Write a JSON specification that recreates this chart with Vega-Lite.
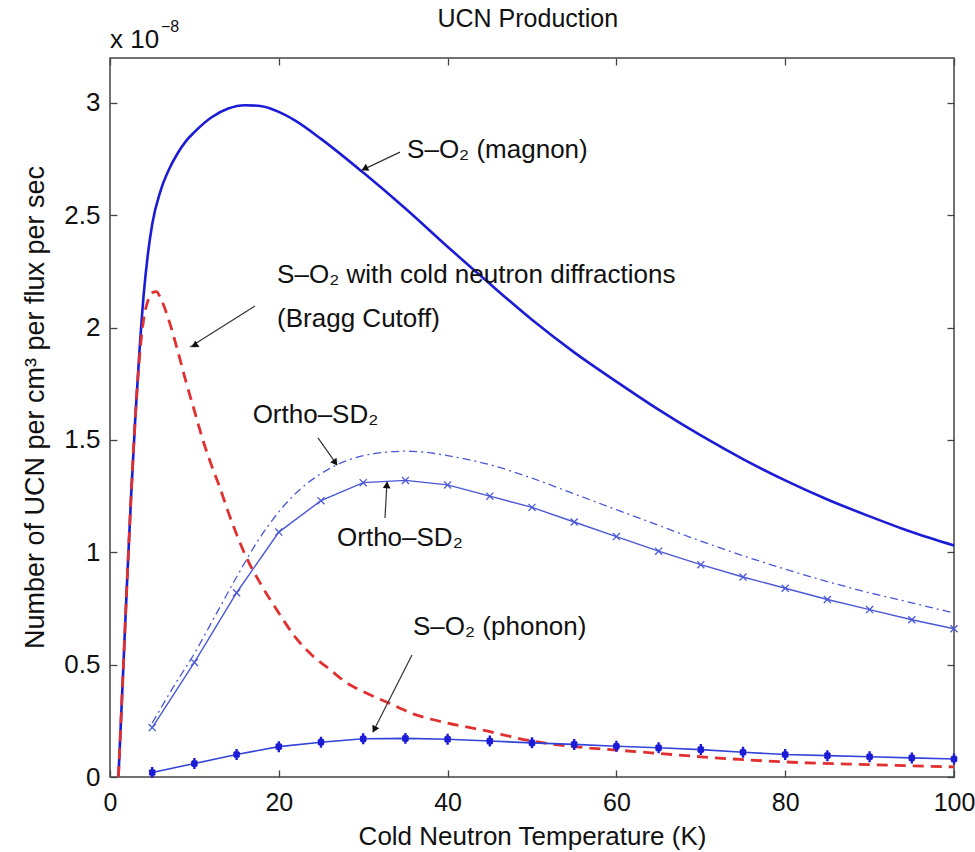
{
  "$schema": "https://vega.github.io/schema/vega-lite/v6.json",
  "width": 844,
  "height": 719,
  "autosize": {"type": "none"},
  "padding": {"left": 110, "top": 58, "right": 21, "bottom": 75},
  "background": "white",
  "config": {
    "font": "Liberation Sans",
    "view": {"stroke": "#444444", "strokeWidth": 1.5},
    "axis": {
      "domain": false,
      "grid": false,
      "tickColor": "#444444",
      "tickWidth": 1.3,
      "tickSize": -7,
      "labelFont": "Liberation Sans",
      "labelFontSize": 26,
      "labelColor": "#111111",
      "titleFont": "Liberation Sans",
      "titleFontSize": 26,
      "titleFontWeight": "normal",
      "titleColor": "#111111"
    }
  },
  "datasets": {
    "curves": [
      {"series": "magnon", "T": 1, "v": 0},
      {"series": "magnon", "T": 1.5, "v": 0.42},
      {"series": "magnon", "T": 2, "v": 0.85},
      {"series": "magnon", "T": 2.5, "v": 1.25},
      {"series": "magnon", "T": 3, "v": 1.6},
      {"series": "magnon", "T": 3.5, "v": 1.9},
      {"series": "magnon", "T": 4, "v": 2.15},
      {"series": "magnon", "T": 4.5, "v": 2.33},
      {"series": "magnon", "T": 5, "v": 2.46},
      {"series": "magnon", "T": 6, "v": 2.61},
      {"series": "magnon", "T": 7, "v": 2.705},
      {"series": "magnon", "T": 8, "v": 2.775},
      {"series": "magnon", "T": 9, "v": 2.83},
      {"series": "magnon", "T": 10, "v": 2.87},
      {"series": "magnon", "T": 12, "v": 2.935},
      {"series": "magnon", "T": 14, "v": 2.975},
      {"series": "magnon", "T": 16, "v": 2.99},
      {"series": "magnon", "T": 18, "v": 2.985},
      {"series": "magnon", "T": 20, "v": 2.96},
      {"series": "magnon", "T": 22, "v": 2.92},
      {"series": "magnon", "T": 25, "v": 2.84},
      {"series": "magnon", "T": 30, "v": 2.69},
      {"series": "magnon", "T": 35, "v": 2.53},
      {"series": "magnon", "T": 40, "v": 2.36},
      {"series": "magnon", "T": 45, "v": 2.195},
      {"series": "magnon", "T": 50, "v": 2.035},
      {"series": "magnon", "T": 55, "v": 1.89},
      {"series": "magnon", "T": 60, "v": 1.76},
      {"series": "magnon", "T": 65, "v": 1.635},
      {"series": "magnon", "T": 70, "v": 1.52},
      {"series": "magnon", "T": 75, "v": 1.415},
      {"series": "magnon", "T": 80, "v": 1.32},
      {"series": "magnon", "T": 85, "v": 1.235},
      {"series": "magnon", "T": 90, "v": 1.16},
      {"series": "magnon", "T": 95, "v": 1.09},
      {"series": "magnon", "T": 100, "v": 1.03},
      {"series": "bragg", "T": 1, "v": 0},
      {"series": "bragg", "T": 1.5, "v": 0.42},
      {"series": "bragg", "T": 2, "v": 0.85},
      {"series": "bragg", "T": 2.5, "v": 1.25},
      {"series": "bragg", "T": 3, "v": 1.6},
      {"series": "bragg", "T": 3.5, "v": 1.87},
      {"series": "bragg", "T": 4, "v": 2.04},
      {"series": "bragg", "T": 4.5, "v": 2.12},
      {"series": "bragg", "T": 5, "v": 2.155},
      {"series": "bragg", "T": 5.5, "v": 2.16},
      {"series": "bragg", "T": 6, "v": 2.13},
      {"series": "bragg", "T": 7, "v": 2.03},
      {"series": "bragg", "T": 8, "v": 1.9},
      {"series": "bragg", "T": 9, "v": 1.76},
      {"series": "bragg", "T": 10, "v": 1.63},
      {"series": "bragg", "T": 11, "v": 1.5},
      {"series": "bragg", "T": 12, "v": 1.39},
      {"series": "bragg", "T": 13, "v": 1.29},
      {"series": "bragg", "T": 14, "v": 1.18},
      {"series": "bragg", "T": 15, "v": 1.08},
      {"series": "bragg", "T": 16, "v": 0.99},
      {"series": "bragg", "T": 18, "v": 0.85},
      {"series": "bragg", "T": 20, "v": 0.73},
      {"series": "bragg", "T": 22, "v": 0.62},
      {"series": "bragg", "T": 24, "v": 0.54},
      {"series": "bragg", "T": 26, "v": 0.48},
      {"series": "bragg", "T": 28, "v": 0.42},
      {"series": "bragg", "T": 30, "v": 0.38},
      {"series": "bragg", "T": 33, "v": 0.33},
      {"series": "bragg", "T": 36, "v": 0.28},
      {"series": "bragg", "T": 40, "v": 0.24},
      {"series": "bragg", "T": 44, "v": 0.21},
      {"series": "bragg", "T": 50, "v": 0.16},
      {"series": "bragg", "T": 55, "v": 0.135},
      {"series": "bragg", "T": 60, "v": 0.12},
      {"series": "bragg", "T": 65, "v": 0.105},
      {"series": "bragg", "T": 70, "v": 0.09},
      {"series": "bragg", "T": 80, "v": 0.067},
      {"series": "bragg", "T": 90, "v": 0.055},
      {"series": "bragg", "T": 100, "v": 0.045},
      {"series": "orthoDD", "T": 5, "v": 0.24},
      {"series": "orthoDD", "T": 7.5, "v": 0.4},
      {"series": "orthoDD", "T": 10, "v": 0.55},
      {"series": "orthoDD", "T": 12.5, "v": 0.72},
      {"series": "orthoDD", "T": 15, "v": 0.89},
      {"series": "orthoDD", "T": 17.5, "v": 1.05},
      {"series": "orthoDD", "T": 20, "v": 1.18},
      {"series": "orthoDD", "T": 22.5, "v": 1.28},
      {"series": "orthoDD", "T": 25, "v": 1.35},
      {"series": "orthoDD", "T": 27.5, "v": 1.4},
      {"series": "orthoDD", "T": 30, "v": 1.43},
      {"series": "orthoDD", "T": 32.5, "v": 1.445},
      {"series": "orthoDD", "T": 35, "v": 1.45},
      {"series": "orthoDD", "T": 37.5, "v": 1.445},
      {"series": "orthoDD", "T": 40, "v": 1.43},
      {"series": "orthoDD", "T": 45, "v": 1.39},
      {"series": "orthoDD", "T": 50, "v": 1.33},
      {"series": "orthoDD", "T": 55, "v": 1.26},
      {"series": "orthoDD", "T": 60, "v": 1.19},
      {"series": "orthoDD", "T": 65, "v": 1.12},
      {"series": "orthoDD", "T": 70, "v": 1.05},
      {"series": "orthoDD", "T": 75, "v": 0.985},
      {"series": "orthoDD", "T": 80, "v": 0.925},
      {"series": "orthoDD", "T": 85, "v": 0.87},
      {"series": "orthoDD", "T": 90, "v": 0.82},
      {"series": "orthoDD", "T": 95, "v": 0.775},
      {"series": "orthoDD", "T": 100, "v": 0.73},
      {"series": "ortho", "T": 5, "v": 0.22},
      {"series": "ortho", "T": 10, "v": 0.51},
      {"series": "ortho", "T": 15, "v": 0.82},
      {"series": "ortho", "T": 20, "v": 1.09},
      {"series": "ortho", "T": 25, "v": 1.23},
      {"series": "ortho", "T": 30, "v": 1.31},
      {"series": "ortho", "T": 35, "v": 1.32},
      {"series": "ortho", "T": 40, "v": 1.3},
      {"series": "ortho", "T": 45, "v": 1.25},
      {"series": "ortho", "T": 50, "v": 1.2},
      {"series": "ortho", "T": 55, "v": 1.135},
      {"series": "ortho", "T": 60, "v": 1.07},
      {"series": "ortho", "T": 65, "v": 1.005},
      {"series": "ortho", "T": 70, "v": 0.945},
      {"series": "ortho", "T": 75, "v": 0.89},
      {"series": "ortho", "T": 80, "v": 0.84},
      {"series": "ortho", "T": 85, "v": 0.79},
      {"series": "ortho", "T": 90, "v": 0.745},
      {"series": "ortho", "T": 95, "v": 0.7},
      {"series": "ortho", "T": 100, "v": 0.66},
      {"series": "phonon", "T": 5, "v": 0.02},
      {"series": "phonon", "T": 10, "v": 0.06},
      {"series": "phonon", "T": 15, "v": 0.1},
      {"series": "phonon", "T": 20, "v": 0.135},
      {"series": "phonon", "T": 25, "v": 0.155},
      {"series": "phonon", "T": 30, "v": 0.17},
      {"series": "phonon", "T": 35, "v": 0.172},
      {"series": "phonon", "T": 40, "v": 0.168},
      {"series": "phonon", "T": 45, "v": 0.16},
      {"series": "phonon", "T": 50, "v": 0.152},
      {"series": "phonon", "T": 55, "v": 0.145},
      {"series": "phonon", "T": 60, "v": 0.137},
      {"series": "phonon", "T": 65, "v": 0.13},
      {"series": "phonon", "T": 70, "v": 0.122},
      {"series": "phonon", "T": 75, "v": 0.11},
      {"series": "phonon", "T": 80, "v": 0.1},
      {"series": "phonon", "T": 85, "v": 0.095},
      {"series": "phonon", "T": 90, "v": 0.09},
      {"series": "phonon", "T": 95, "v": 0.085},
      {"series": "phonon", "T": 100, "v": 0.08}
    ],
    "labels": [
      {"T": 35.2, "v": 2.79, "text": "S–O₂ (magnon)"},
      {"T": 19.8, "v": 2.234, "text": "S–O₂ with cold neutron diffractions"},
      {"T": 19.8, "v": 2.04, "text": "(Bragg Cutoff)"},
      {"T": 16.9, "v": 1.61, "text": "Ortho–SD₂"},
      {"T": 26.9, "v": 1.064, "text": "Ortho–SD₂"},
      {"T": 35.9, "v": 0.668, "text": "S–O₂ (phonon)"}
    ],
    "arrows": [
      {"T": 34.36, "v": 2.781, "T2": 29.86, "v2": 2.701, "hT": 30.28, "hv": 2.709, "angle": -115.3},
      {"T": 17.18, "v": 2.096, "T2": 9.48, "v2": 1.914, "hT": 10.12, "hv": 1.923, "angle": -122.2},
      {"T": 24.64, "v": 1.509, "T2": 26.9, "v2": 1.389, "hT": 26.62, "hv": 1.403, "angle": 144.9},
      {"T": 32.58, "v": 1.153, "T2": 32.82, "v2": 1.313, "hT": 32.8, "hv": 1.295, "angle": 3.2},
      {"T": 35.78, "v": 0.543, "T2": 31.16, "v2": 0.2, "hT": 31.37, "hv": 0.216, "angle": -153.1}
    ],
    "corner": [
      {"T": 0, "v": 3.2, "base": "x 10", "exp": "−8"}
    ],
    "heading": [
      {"T": 49.5, "v": 3.2, "text": "UCN Production"}
    ]
  },
  "data": {"name": "curves"},
  "encoding": {
    "x": {"field": "T", "type": "quantitative", "scale": {"domain": [0, 100], "nice": false, "zero": false}, "axis": null},
    "y": {"field": "v", "type": "quantitative", "scale": {"domain": [0, 3.2], "nice": false, "zero": false}, "axis": null}
  },
  "layer": [
    {
      "transform": [{"filter": "datum.series === 'magnon'"}],
      "mark": {"type": "line", "color": "#1c1cd6", "strokeWidth": 2.6, "interpolate": "monotone"},
      "encoding": {
        "x": {"field": "T", "type": "quantitative", "scale": {"domain": [0, 100], "nice": false, "zero": false},
              "axis": {"orient": "bottom", "values": [0, 20, 40, 60, 80, 100], "format": "d", "labelFontSize": 25, "labelPadding": 20, "title": "Cold Neutron Temperature (K)", "titlePadding": 8, "labelFlush": false}},
        "y": {"field": "v", "type": "quantitative", "scale": {"domain": [0, 3.2], "nice": false, "zero": false},
              "axis": {"orient": "left", "values": [0, 0.5, 1, 1.5, 2, 2.5, 3], "format": "~g", "labelPadding": 17, "title": "Number of UCN per cm³ per flux per sec", "titleFontSize": 27, "titlePadding": 14, "titleY": 349, "labelFlush": false}}
      }
    },
    {
      "transform": [{"filter": "datum.series === 'bragg'"}],
      "mark": {"type": "line", "color": "#e0302f", "strokeWidth": 2.8, "strokeDash": [11, 7], "interpolate": "monotone"},
      "encoding": {
        "x": {"field": "T", "type": "quantitative", "scale": {"domain": [0, 100], "nice": false, "zero": false},
              "axis": {"orient": "top", "values": [0, 20, 40, 60, 80, 100], "labels": false, "title": null}},
        "y": {"field": "v", "type": "quantitative", "scale": {"domain": [0, 3.2], "nice": false, "zero": false},
              "axis": {"orient": "right", "values": [0, 0.5, 1, 1.5, 2, 2.5, 3], "labels": false, "title": null}}
      }
    },
    {
      "transform": [{"filter": "datum.series === 'orthoDD'"}],
      "mark": {"type": "line", "color": "#4a58d8", "strokeWidth": 1.3, "strokeDash": [8, 4, 2, 4], "interpolate": "monotone"}
    },
    {
      "transform": [{"filter": "datum.series === 'ortho'"}],
      "mark": {"type": "line", "color": "#4a58d8", "strokeWidth": 1.4}
    },
    {
      "transform": [{"filter": "datum.series === 'ortho'"}],
      "mark": {"type": "point", "shape": "M-1,-1L1,1M-1,1L1,-1", "size": 50, "filled": false, "color": "#4a58d8", "strokeWidth": 1.3, "opacity": 1}
    },
    {
      "transform": [{"filter": "datum.series === 'phonon'"}],
      "mark": {"type": "line", "color": "#3344d8", "strokeWidth": 1.6}
    },
    {
      "transform": [{"filter": "datum.series === 'phonon'"}],
      "mark": {"type": "point", "shape": "M0,-1L0,1M-0.6,0L0.6,0M-0.5,-0.5L0.5,0.5M-0.5,0.5L0.5,-0.5", "size": 120, "filled": false, "color": "#1c1cd6", "strokeWidth": 2.4, "opacity": 1}
    },
    {
      "data": {"name": "arrows"},
      "mark": {"type": "rule", "color": "#333333", "strokeWidth": 1.2},
      "encoding": {
        "x2": {"field": "T2"},
        "y2": {"field": "v2"}
      }
    },
    {
      "data": {"name": "arrows"},
      "mark": {"type": "point", "shape": "triangle", "size": 60, "filled": true, "color": "#111111", "opacity": 1},
      "encoding": {
        "x": {"field": "hT", "type": "quantitative"},
        "y": {"field": "hv", "type": "quantitative"},
        "angle": {"field": "angle", "type": "quantitative", "scale": null}
      }
    },
    {
      "data": {"name": "labels"},
      "mark": {"type": "text", "align": "left", "baseline": "middle", "fontSize": 26, "font": "Liberation Sans", "color": "#111111"},
      "encoding": {"text": {"field": "text"}}
    },
    {
      "data": {"name": "heading"},
      "mark": {"type": "text", "align": "center", "baseline": "alphabetic", "fontSize": 25, "font": "Liberation Sans", "color": "#111111", "dy": -31},
      "encoding": {"text": {"field": "text"}}
    },
    {
      "data": {"name": "corner"},
      "mark": {"type": "text", "align": "left", "baseline": "alphabetic", "fontSize": 26, "font": "Liberation Sans", "color": "#111111", "dy": -10},
      "encoding": {"text": {"field": "base"}}
    },
    {
      "data": {"name": "corner"},
      "mark": {"type": "text", "align": "left", "baseline": "alphabetic", "fontSize": 16, "font": "Liberation Sans", "color": "#111111", "dx": 51, "dy": -26},
      "encoding": {"text": {"field": "exp"}}
    }
  ],
  "resolve": {"axis": {"x": "independent", "y": "independent"}}
}
